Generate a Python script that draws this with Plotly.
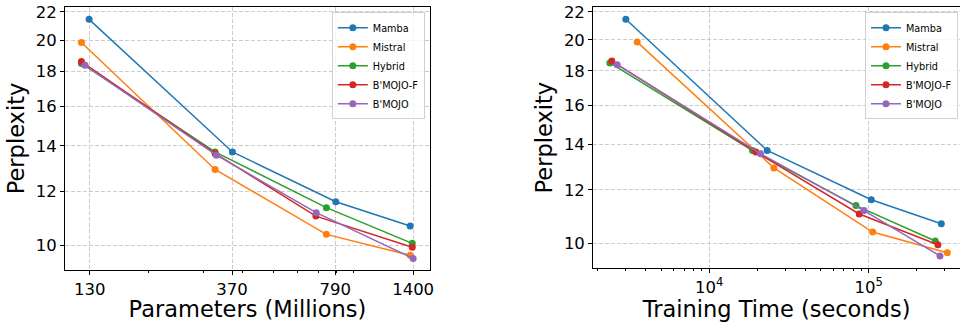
import plotly.graph_objects as go

series_names = ["Mamba", "Mistral", "Hybrid", "B'MOJO-F", "B'MOJO"]
colors = ["#1f77b4", "#ff7f0e", "#2ca02c", "#d62728", "#9467bd"]

# Parameters (millions) per model size, per series
params_mamba = [129.4, 371, 793, 1370]
params_mistral = [122.3, 326.6, 740, 1370]
params_hybrid = [122.3, 326.6, 740, 1391]
params_bmojo_f = [122.3, 326.6, 685, 1391]
params_bmojo = [125.6, 330, 687, 1400]

# Training time (seconds)
time_mamba = [3000, 23100, 103900, 285600]
time_mistral = [3535, 25440, 105900, 311400]
time_hybrid = [2382, 18700, 83200, 261800]
time_bmojo_f = [2451, 19620, 87300, 272000]
time_bmojo = [2647, 20990, 93500, 280200]

# Perplexity
ppl_mamba = [21.46, 13.72, 11.60, 10.69]
ppl_mistral = [19.85, 12.93, 10.39, 9.68]
ppl_hybrid = [18.49, 13.72, 11.37, 10.08]
ppl_bmojo_f = [18.61, 13.65, 11.05, 9.95]
ppl_bmojo = [18.38, 13.57, 11.18, 9.58]

x_ticks_params = [130, 370, 790, 1400]
x_minor_params = [200, 300, 400, 500, 600, 700, 800, 900]
x_ticks_time = [1e4, 1e5]
x_ticktext_time = ["10<sup>4</sup>", "10<sup>5</sup>"]
x_minor_time = [2000, 3000, 4000, 5000, 6000, 7000, 8000, 9000,
                20000, 30000, 40000, 50000, 60000, 70000, 80000, 90000,
                200000, 300000]
y_ticks = [10, 12, 14, 16, 18, 20, 22]

params = [params_mamba, params_mistral, params_hybrid, params_bmojo_f, params_bmojo]
times = [time_mamba, time_mistral, time_hybrid, time_bmojo_f, time_bmojo]
ppls = [ppl_mamba, ppl_mistral, ppl_hybrid, ppl_bmojo_f, ppl_bmojo]

FONT = "DejaVu Sans"
fig = go.Figure()

for name, c, x, y in zip(series_names, colors, params, ppls):
    fig.add_trace(go.Scatter(x=x, y=y, mode="lines+markers", name=name,
                             line=dict(color=c, width=1.5),
                             marker=dict(color=c, size=7),
                             xaxis="x", yaxis="y", legend="legend"))
for name, c, x, y in zip(series_names, colors, times, ppls):
    fig.add_trace(go.Scatter(x=x, y=y, mode="lines+markers", name=name,
                             line=dict(color=c, width=1.5),
                             marker=dict(color=c, size=7),
                             xaxis="x2", yaxis="y2", legend="legend2"))

grid = dict(showgrid=True, gridcolor="#cccccc", griddash="4px,2px", gridwidth=0.8)
tickfont = dict(family=FONT, size=16.5, color="black")
titlefont = dict(family=FONT, size=22.5, color="black")

ML, MR, MT, MB = 65.3, 0, 6.7, 52
PW = 960 - ML - MR
PH = 322 - MT - MB

def fx(px):
    return (px - ML) / PW

def fy(py):
    return (322 - MB - py) / PH

common = dict(ticks="outside", ticklen=4, tickcolor="black",
              showline=True, linecolor="black", linewidth=1,
              tickfont=tickfont, zeroline=False, automargin=False)

fig.update_layout(
    width=960, height=322,
    margin=dict(l=ML, r=MR, t=MT, b=MB, autoexpand=False),
    paper_bgcolor="white", plot_bgcolor="white",
    font=dict(family=FONT, color="black"),
    xaxis=dict(type="log", domain=[fx(65.3), fx(430)], anchor="y",
               range=[2.035, 3.1994],
               tickmode="array", tickvals=x_ticks_params,
               ticktext=[str(v) for v in x_ticks_params], mirror=True,
               minor=dict(tickvals=x_minor_params, ticks="outside", ticklen=2,
                          tickcolor="black", showgrid=False),
               title=dict(text="Parameters (Millions)", font=titlefont, standoff=2),
               **common, **grid),
    yaxis=dict(type="log", domain=[fy(270), fy(6.7)], anchor="x",
               range=[0.9644, 1.3497],
               tickmode="array", tickvals=y_ticks,
               ticktext=[str(v) for v in y_ticks], mirror=True,
               title=dict(text="Perplexity", font=titlefont, standoff=4),
               **common, **grid),
    xaxis2=dict(type="log", domain=[fx(593.3), 1.0], anchor="y2",
                range=[3.2723, 5.573],
                tickmode="array", tickvals=x_ticks_time, ticktext=x_ticktext_time,
                mirror=True,
                minor=dict(tickvals=x_minor_time, ticks="outside", ticklen=2,
                           tickcolor="black", showgrid=False),
                title=dict(text="Training Time (seconds)", font=titlefont, standoff=2),
                **common, **grid),
    yaxis2=dict(type="log", domain=[fy(268.3), fy(6.7)], anchor="x2",
                range=[0.963, 1.3497],
                tickmode="array", tickvals=y_ticks,
                ticktext=[str(v) for v in y_ticks], mirror=False,
                title=dict(text="Perplexity", font=titlefont, standoff=4),
                **common, **grid),
    legend=dict(x=fx(425), y=fy(12), xanchor="right", yanchor="top",
                bgcolor="rgba(255,255,255,0.8)", bordercolor="#d0d0d0", borderwidth=1,
                font=dict(family=FONT, size=9.7, color="black"),
                tracegroupgap=0, itemwidth=30),
    legend2=dict(x=fx(958), y=fy(12), xanchor="right", yanchor="top",
                 bgcolor="rgba(255,255,255,0.8)", bordercolor="#d0d0d0", borderwidth=1,
                 font=dict(family=FONT, size=9.7, color="black"),
                 tracegroupgap=0, itemwidth=30),
)

fig.write_html("out.html",
               config={"displayModeBar": False},
               post_script="document.body.style.margin='0px';document.body.style.overflow='hidden';")
